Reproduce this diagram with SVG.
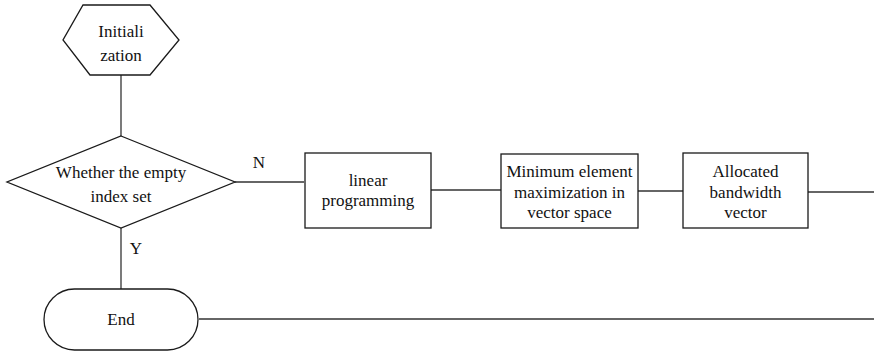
<svg xmlns="http://www.w3.org/2000/svg" width="874" height="353" viewBox="0 0 874 353">
  <style>
    .shape { fill: #fff; stroke: #1a1a1a; stroke-width: 1.3; }
    .conn { fill: none; stroke: #333; stroke-width: 1.3; }
    .lbl { font-family: 'Liberation Serif', 'Times New Roman', Times, 'DejaVu Serif', serif; font-size: 17px; fill: #111; text-anchor: middle; }
  </style>
  <rect width="874" height="353" fill="#fff"/>
  <g id="connectors">
    <line class="conn" x1="121" y1="75" x2="121" y2="136"/>
    <line class="conn" x1="235" y1="182" x2="304" y2="182"/>
    <line class="conn" x1="431" y1="190" x2="501" y2="190"/>
    <line class="conn" x1="638" y1="191" x2="683" y2="191"/>
    <line class="conn" x1="808" y1="192" x2="874" y2="192"/>
    <line class="conn" x1="121" y1="228" x2="121" y2="289"/>
    <line class="conn" x1="199" y1="319" x2="874" y2="319"/>
    <text class="lbl" x="259" y="168">N</text>
    <text class="lbl" x="136" y="254">Y</text>
  </g>
  <g id="init">
    <polygon class="shape" points="83,5 150,5 179,40 150,75 90,75 63,40"/>
    <text class="lbl" x="121" y="37">Initiali</text>
    <text class="lbl" x="121" y="61">zation</text>
  </g>
  <g id="decision">
    <polygon class="shape" points="121,136 235,182 121,228 7,182"/>
    <text class="lbl" x="121" y="178">Whether the empty</text>
    <text class="lbl" x="121" y="202">index set</text>
  </g>
  <g id="linear-programming">
    <rect class="shape" x="305" y="153" width="126" height="75"/>
    <text class="lbl" x="368" y="186">linear</text>
    <text class="lbl" x="368" y="206">programming</text>
  </g>
  <g id="maximization">
    <rect class="shape" x="501" y="154" width="137" height="74"/>
    <text class="lbl" x="569.5" y="177">Minimum element</text>
    <text class="lbl" x="569.5" y="198">maximization in</text>
    <text class="lbl" x="569.5" y="218">vector space</text>
  </g>
  <g id="bandwidth">
    <rect class="shape" x="683" y="153" width="125" height="75"/>
    <text class="lbl" x="745.5" y="177">Allocated</text>
    <text class="lbl" x="745.5" y="198">bandwidth</text>
    <text class="lbl" x="745.5" y="218">vector</text>
  </g>
  <g id="end">
    <rect class="shape" x="44" y="289" width="154" height="61" rx="30.5" ry="30.5"/>
    <text class="lbl" x="121" y="325">End</text>
  </g>
</svg>
